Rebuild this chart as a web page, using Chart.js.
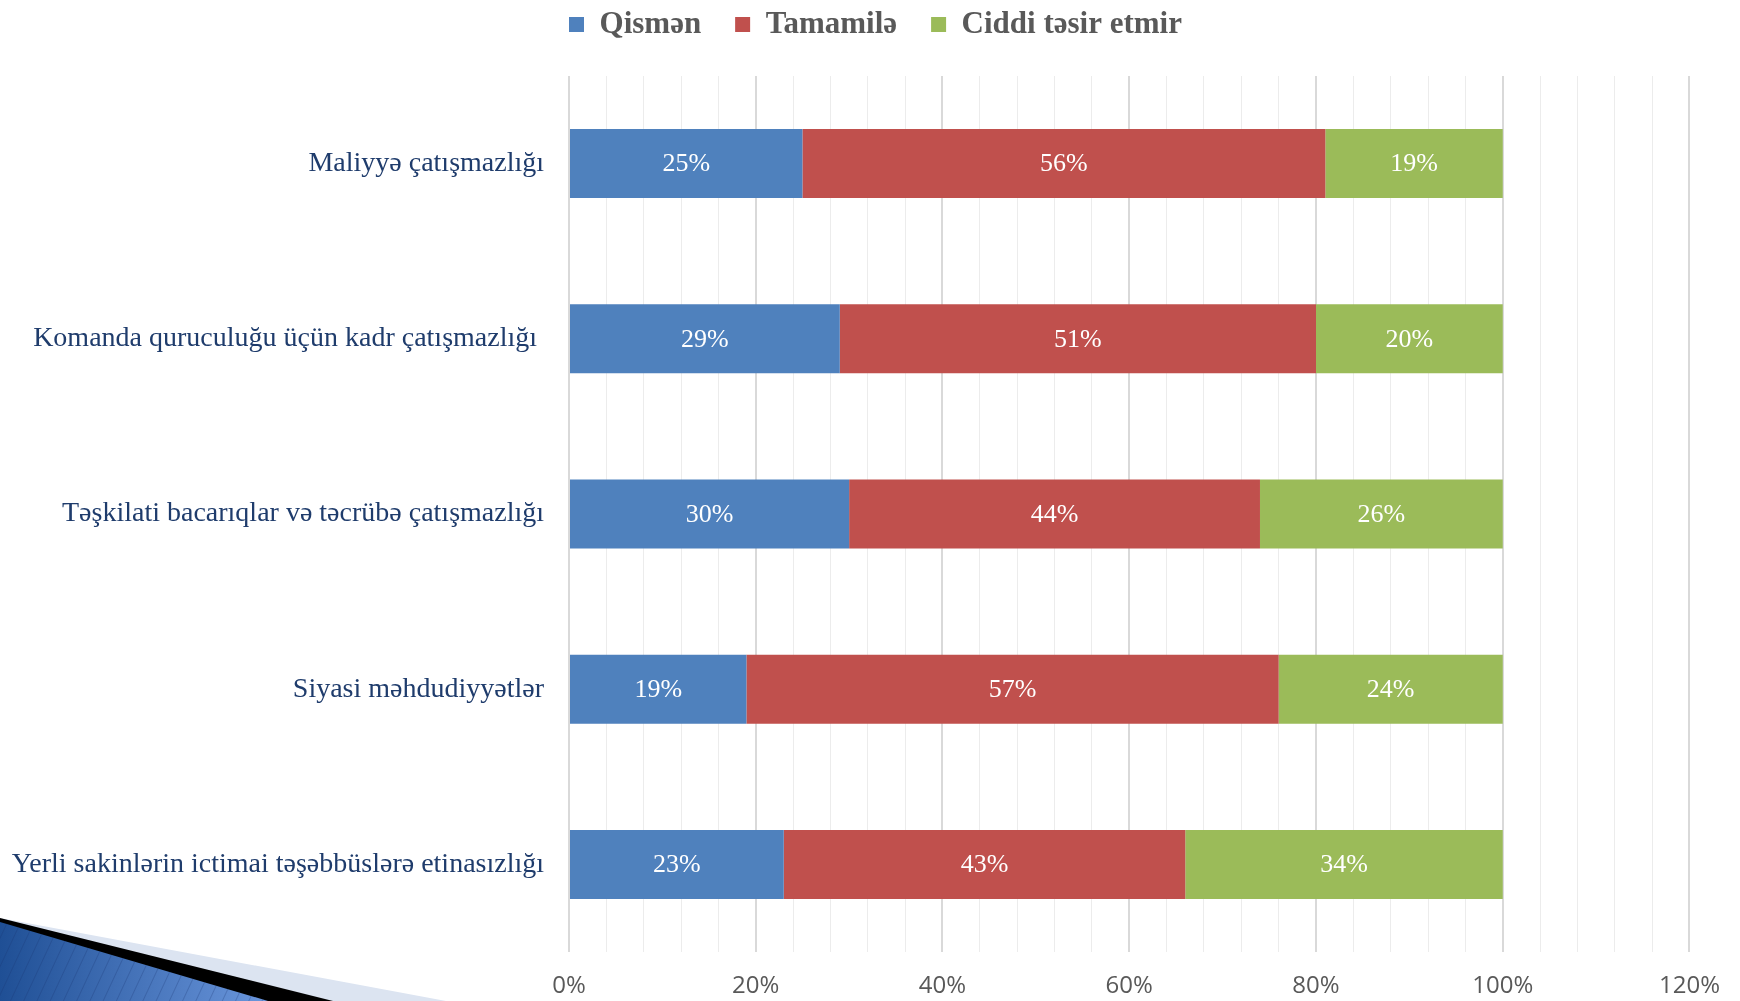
<!DOCTYPE html>
<html>
<head>
<meta charset="utf-8">
<script src="https://cdn.jsdelivr.net/npm/chart.js@4.4.0/dist/chart.umd.min.js"></script>
<style>
    html, body { margin: 0; padding: 0; background: #fff; overflow: hidden; }
    #wrap { position: relative; width: 1740px; height: 1001px; }
    #deco { position: absolute; left: 0; top: 0; pointer-events: none; }
</style>
</head>
<body>
<div id="wrap">
    <canvas id="chart"></canvas>
    <svg id="deco" width="1740" height="1001">
        <defs>
            <linearGradient id="blueGrad" x1="0" y1="0" x2="1" y2="0">
                <stop offset="0" stop-color="#1f4f95"/>
                <stop offset="1" stop-color="#6a96dc"/>
            </linearGradient>
            <pattern id="stripes" width="12" height="12" patternUnits="userSpaceOnUse" patternTransform="rotate(25)">
                <line x1="0" y1="0" x2="0" y2="12" stroke="rgba(20,50,110,0.35)" stroke-width="1.5"/>
            </pattern>
        </defs>
        <polygon points="0,918 446,1001 0,1001" fill="#dce4f1"/>
        <polygon points="0,918 333,1001 0,1001" fill="#000"/>
        <polygon points="0,922 268,1001 0,1001" fill="url(#blueGrad)"/>
        <polygon points="0,922 268,1001 0,1001" fill="url(#stripes)"/>
    </svg>
</div>
<script>
// Categories and series
const categories = [
    'Maliyyə çatışmazlığı',
    'Komanda quruculuğu üçün kadr çatışmazlığı ',
    'Təşkilati bacarıqlar və təcrübə çatışmazlığı',
    'Siyasi məhdudiyyətlər',
    'Yerli sakinlərin ictimai təşəbbüslərə etinasızlığı'
];
const qismen = [25, 29, 30, 19, 23];
const tamamile = [56, 51, 44, 57, 43];
const ciddiDeyil = [19, 20, 26, 24, 34];

const seriesNames = ['Qismən', 'Tamamilə', 'Ciddi təsir etmir'];
const xTickLabels = ['0%', '20%', '40%', '60%', '80%', '100%', '120%'];

const LEGEND_PAD = 34;

// Draw value labels inside each bar segment
const barLabels = {
    id: 'barLabels',
    afterDatasetsDraw(chart) {
        const ctx = chart.ctx;
        ctx.save();
        ctx.font = Chart.helpers.toFont({ family: 'Liberation Serif', size: 26 }).string;
        ctx.fillStyle = '#ffffff';
        ctx.textAlign = 'center';
        ctx.textBaseline = 'middle';
        chart.data.datasets.forEach((ds, i) => {
            chart.getDatasetMeta(i).data.forEach((bar, j) => {
                const { x, y, base } = bar.getProps(['x', 'y', 'base'], true);
                ctx.fillText(ds.data[j] + '%', (x + base) / 2, y + 1);
            });
        });
        ctx.restore();
    }
};

// Fixed legend height so the plot starts where it should; nudge the items
const legendHeight = {
    id: 'legendHeight',
    beforeInit(chart) {
        const fit = chart.legend.fit;
        chart.legend.fit = function () {
            fit.bind(chart.legend)();
            this.height = 76;
        };
    },
    afterLayout(chart) {
        chart.legend.top = 9 - LEGEND_PAD;
        chart.legend.left += 30;
        chart.legend.right += 30;
    }
};

const ctx = document.getElementById('chart').getContext('2d');
new Chart(ctx, {
    type: 'bar',
    data: {
        labels: categories,
        datasets: [
            { label: seriesNames[0], data: qismen, backgroundColor: '#4f81bd' },
            { label: seriesNames[1], data: tamamile, backgroundColor: '#c0504d' },
            { label: seriesNames[2], data: ciddiDeyil, backgroundColor: '#9bbb59' }
        ]
    },
    options: {
        indexAxis: 'y',
        responsive: true,
        maintainAspectRatio: false,
        animation: false,
        layout: {
            padding: { top: 0, right: 49, bottom: 0, left: 0 }
        },
        datasets: {
            bar: {
                categoryPercentage: 1,
                barPercentage: 0.394,
                borderWidth: 0
            }
        },
        plugins: {
            legend: {
                display: true,
                position: 'top',
                labels: {
                    boxWidth: 15,
                    boxHeight: 15,
                    padding: LEGEND_PAD,
                    color: '#595959',
                    font: {
                        family: 'Liberation Serif',
                        size: 31,
                        weight: 'bold'
                    }
                }
            },
            tooltip: { enabled: false }
        },
        scales: {
            x: {
                stacked: true,
                min: 0,
                max: 120,
                afterFit(scale) {
                    scale.height = 49;
                },
                ticks: {
                    stepSize: 4,
                    autoSkip: false,
                    maxRotation: 0,
                    padding: 20,
                    color: '#595959',
                    font: { family: 'Open Sans', size: 24 },
                    callback: function (value) {
                        return value % 20 === 0 ? xTickLabels[value / 20] : '';
                    }
                },
                grid: {
                    drawTicks: false,
                    color: c => (c.tick && c.tick.value % 20 === 0) ? '#d9d9d9' : '#ececec',
                    lineWidth: c => (c.tick && c.tick.value % 20 === 0) ? 2 : 1
                },
                border: { display: false }
            },
            y: {
                stacked: true,
                afterFit(scale) {
                    scale.width = 569;
                },
                ticks: {
                    padding: 25,
                    color: '#1f3c6c',
                    font: { family: 'Liberation Serif', size: 28 }
                },
                grid: { display: false, drawTicks: false },
                border: { display: false }
            }
        }
    },
    plugins: [barLabels, legendHeight]
});
</script>
</body>
</html>
